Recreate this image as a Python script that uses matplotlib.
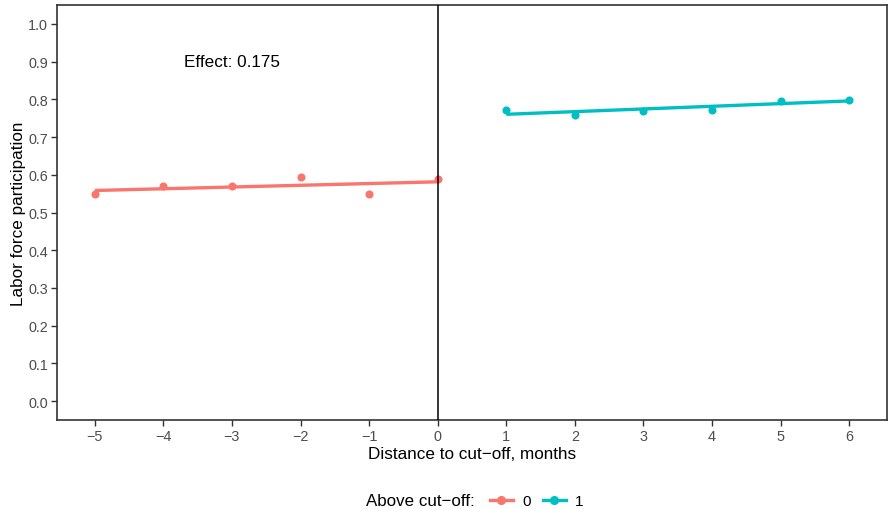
import matplotlib
matplotlib.use('Agg')
import matplotlib.pyplot as plt
from matplotlib.lines import Line2D
import numpy as np

plt.rcParams['font.family'] = ['Liberation Sans', 'DejaVu Sans']

# monthly participation rates on each side of the cut-off
months_below = [-5, -4, -3, -2, -1, 0]
rate_below = [0.550, 0.569, 0.569, 0.593, 0.548, 0.590]
months_above = [1, 2, 3, 4, 5, 6]
rate_above = [0.772, 0.759, 0.770, 0.772, 0.796, 0.799]

x_ticks = [-5, -4, -3, -2, -1, 0, 1, 2, 3, 4, 5, 6]
y_ticks = [0.0, 0.1, 0.2, 0.3, 0.4, 0.5, 0.6, 0.7, 0.8, 0.9, 1.0]
effect = 0.175

red = '#F8766D'
teal = '#00BFC4'
grey = '#4D4D4D'


def main():
    fig = plt.figure(figsize=(8.88, 5.10), dpi=100)
    ax = fig.add_axes([57 / 888, 1 - 421 / 510, 830 / 888, 415 / 510])

    for xs, ys, col in [(months_below, rate_below, red), (months_above, rate_above, teal)]:
        xs = np.array(xs)
        ys = np.array(ys)
        slope, icpt = np.polyfit(xs, ys, 1)
        ax.scatter(xs, ys, s=34, color=col, zorder=3, linewidths=0)
        ax.plot(xs, icpt + slope * xs, color=col, lw=2.4, zorder=2,
                solid_capstyle='butt')

    ax.axvline(0, color='black', lw=1.1, zorder=4)
    ax.text(-3, 0.9, f'Effect: {effect}', ha='center', va='center', fontsize=12.3)

    ax.set_xlim(-5.55, 6.55)
    ax.set_ylim(-0.05, 1.05)
    ax.set_xticks(x_ticks)
    ax.set_xticklabels([str(t).replace('-', '\u2212') for t in x_ticks])
    ax.set_yticks(y_ticks)
    ax.set_yticklabels([f'{t:.1f}' for t in y_ticks])
    ax.tick_params(direction='out', length=4, width=1.0, color='#333333',
                   labelcolor=grey, labelsize=10.4, pad=2.5)
    for sp in ax.spines.values():
        sp.set_color('#333333')
        sp.set_linewidth(1.2)

    ax.set_xlabel('Distance to cut\u2212off, months', fontsize=12.3, labelpad=2)
    ax.set_ylabel('Labor force participation', fontsize=12.3, labelpad=1.5)

    handles = [Line2D([], [], color=red, lw=2.4, marker='o', markersize=5.5),
               Line2D([], [], color=teal, lw=2.4, marker='o', markersize=5.5)]
    fig.text(366 / 888, 1 - 502 / 510, 'Above cut\u2212off:', fontsize=12.2,
             ha='left', va='center')
    fig.legend(handles, ['0', '1'], loc='center left',
               bbox_to_anchor=(490 / 888, 1 - 502 / 510), ncol=2, frameon=False,
               fontsize=11, handlelength=1.5, handletextpad=0.6,
               columnspacing=0.8, borderpad=0, borderaxespad=0)

    fig.savefig('out.png', dpi=100)


if __name__ == '__main__':
    main()
